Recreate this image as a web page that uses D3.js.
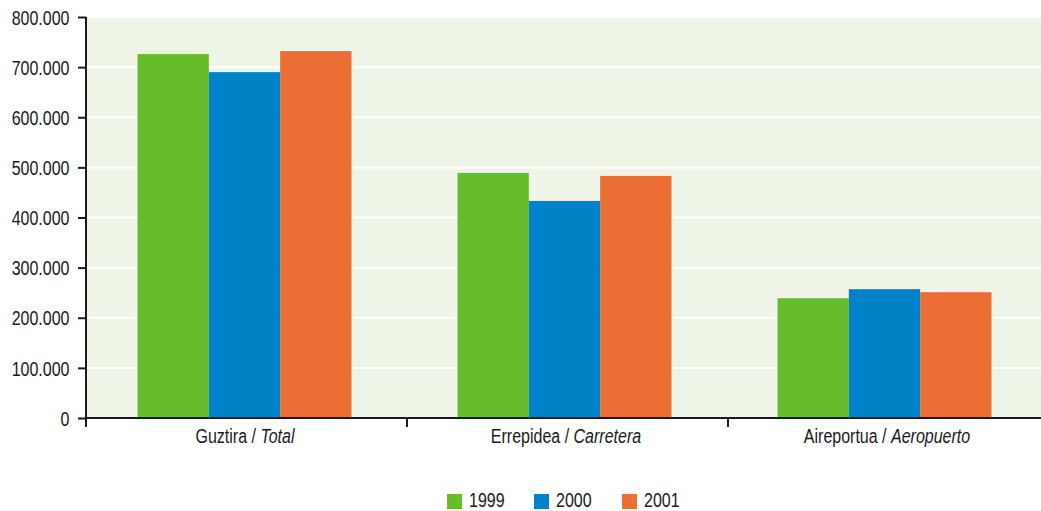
<!DOCTYPE html>
<html><head><meta charset="utf-8">
<script src="https://cdn.jsdelivr.net/npm/d3@7"></script>
<style>
body{margin:0;background:#fff;}
text{font-family:"Liberation Sans",Arial,sans-serif;fill:#1a1a1a;}
</style></head>
<body><svg id="c" width="1041" height="511"></svg>
<script>
const categories = ["Guztira", "Errepidea", "Aireportua"];
const categoriesEs = ["Total", "Carretera", "Aeropuerto"];
const series = ["1999", "2000", "2001"];
const v1999 = [726000, 489000, 239000];
const v2000 = [690000, 433000, 257000];
const v2001 = [732000, 483000, 251000];
const yTicks = [0, 100000, 200000, 300000, 400000, 500000, 600000, 700000, 800000];
const colors = ["#66bd2b", "#0082c8", "#eb6e34"];

(function(){
const values = [v1999, v2000, v2001];
const svg = d3.select("#c");
const SX = 0.8, FS = 20;
const pL = 86, pR = 1049, pT = 17, pB = 418;
const y = d3.scaleLinear().domain([0, 800000]).range([pB, pT]);
const x0 = d3.scaleBand().domain(categories).range([pL, pR]).paddingInner(0).paddingOuter(0);
const groupW = 214;
const x1 = d3.scaleBand().domain(series).range([0, groupW]).padding(0);

svg.append("rect").attr("x", pL).attr("y", pT).attr("width", 1041 - pL).attr("height", pB - pT).attr("fill", "#eef4e6");

svg.append("g").selectAll("line").data(yTicks.slice(1)).join("line")
  .attr("x1", pL).attr("x2", 1041).attr("y1", d => y(d)).attr("y2", d => y(d))
  .attr("stroke", "#ffffff").attr("stroke-width", 2);

const fmt = d => d === 0 ? "0" : d3.format(",")(d).replace(/,/g, ".");

categories.forEach((c, ci) => {
  const gx0 = x0(c) + (x0.bandwidth() - groupW) / 2 - 2 - ci;
  series.forEach((s, si) => {
    svg.append("rect")
      .attr("x", gx0 + x1(s)).attr("width", x1.bandwidth())
      .attr("y", y(values[si][ci])).attr("height", pB - y(values[si][ci]))
      .attr("fill", colors[si]);
  });
});

const yAxis = d3.axisLeft(y).tickValues(yTicks).tickFormat(fmt).tickSize(8).tickPadding(6);
const gy = svg.append("g").attr("transform", `translate(${pL},0)`).call(yAxis);
gy.select(".domain").attr("stroke", "#1a1a1a").attr("stroke-width", 2).attr("d", `M0,${pT}V${pB}`);
gy.selectAll(".tick line").attr("stroke", "#1a1a1a").attr("stroke-width", 2);
gy.selectAll(".tick text").attr("font-size", FS).attr("font-family", null).attr("fill", "#1a1a1a")
  .attr("x", -16.5 / SX).attr("dy", "0.36em").attr("transform", `scale(${SX},1)`);

const gxa = svg.append("g");
gxa.append("line").attr("x1", pL).attr("x2", 1041).attr("y1", pB).attr("y2", pB).attr("stroke", "#1a1a1a").attr("stroke-width", 2);
const bounds = categories.map(c => x0(c));
gxa.selectAll(".tk").data(bounds).join("line").attr("class", "tk")
  .attr("x1", d => d).attr("x2", d => d).attr("y1", pB).attr("y2", pB + 9)
  .attr("stroke", "#1a1a1a").attr("stroke-width", 2);
categories.forEach((c, i) => {
  const t = gxa.append("text")
    .attr("transform", `translate(${x0(c) + x0.bandwidth() / 2 - 1.5},443) scale(${SX},1)`)
    .attr("text-anchor", "middle").attr("font-size", FS);
  t.append("tspan").text(c + " / ");
  t.append("tspan").attr("font-style", "italic").text(categoriesEs[i]);
});

const legX = [447, 534, 622];
series.forEach((s, i) => {
  svg.append("rect").attr("x", legX[i]).attr("y", 494).attr("width", 15).attr("height", 15).attr("fill", colors[i]);
  svg.append("text").attr("transform", `translate(${legX[i] + 22},507) scale(${SX},1)`)
    .attr("font-size", FS).text(s);
});
})();
</script></body></html>
